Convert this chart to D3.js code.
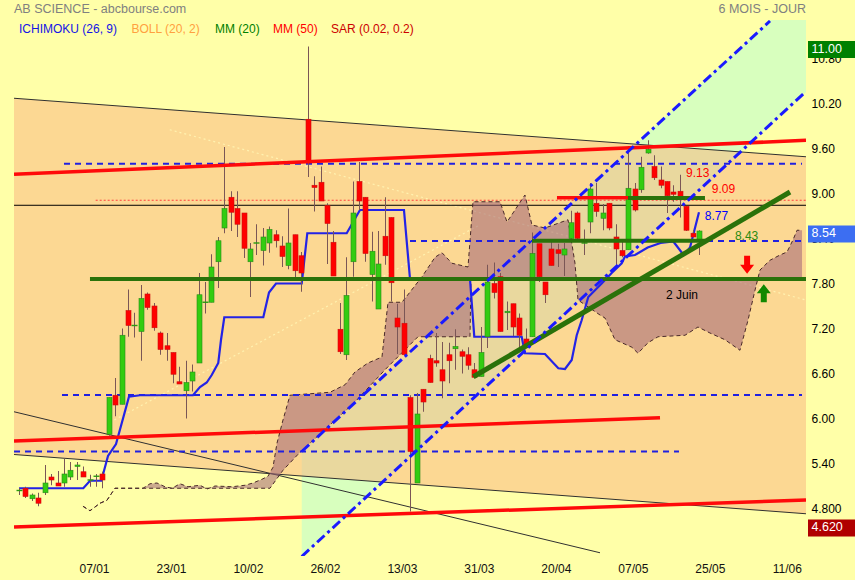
<!DOCTYPE html>
<html><head><meta charset="utf-8">
<script src="https://cdn.jsdelivr.net/npm/d3@7"></script>
<style>body{margin:0;background:#ffffa8;} svg{display:block;font-family:Arial,"Liberation Sans",sans-serif;}</style>
</head><body><svg id="c" width="855" height="580"></svg>
<script>
// ---------- DATA ----------
const dateLabels = ["07/01","23/01","10/02","26/02","13/03","31/03","20/04","07/05","25/05","11/06"];
const dateLabelIdx = [0,12,24,36,48,60,72,84,96,108];
const priceTicks = [10.8,10.2,9.6,9.0,8.4,7.8,7.2,6.6,6.0,5.4,4.8];
const priceTickLabels = ["10.80","10.20","9.60","9.00","8.40","7.80","7.20","6.60","6.00","5.40","4.800"];
const firstIdx = -12;
const opens  = [5.06,5.09,4.95,4.96,5.03,5.24,5.16,5.16,5.24,5.38,5.31,5.20,5.25,5.28,5.81,6.33,6.21,7.46,7.26,7.18,7.68,7.52,7.16,6.99,6.90,6.51,6.39,6.52,6.76,7.56,7.57,8.11,8.56,8.97,8.82,8.76,8.11,8.36,8.26,8.36,8.47,8.32,8.06,8.47,8.19,10.01,9.13,9.17,8.86,8.37,7.21,6.87,8.11,9.18,8.97,7.94,7.48,8.45,8.70,7.36,7.29,6.30,5.16,6.41,6.82,6.79,6.67,6.87,6.95,6.91,6.87,6.67,6.58,7.11,7.82,7.91,7.43,7.55,7.36,7.08,7.11,8.35,7.84,8.28,8.27,8.20,8.42,8.76,8.36,8.64,8.89,8.69,8.89,8.44,8.26,8.27,9.08,9.07,9.56,9.38,9.20,9.18,9.04,9.05,8.85,8.49,8.38];
const highs  = [5.09,5.11,5.02,5.03,5.40,5.28,5.32,5.49,5.44,5.44,5.38,5.27,5.28,5.31,6.30,6.56,7.22,7.74,7.43,7.80,7.70,7.56,7.18,7.16,6.90,6.71,6.79,6.74,7.96,7.84,8.21,8.44,9.64,9.05,9.05,8.76,8.36,8.61,8.56,8.58,8.53,8.45,8.82,8.47,8.24,10.98,9.25,9.38,8.89,8.52,7.56,8.17,9.18,9.44,8.97,8.51,8.52,8.97,8.70,7.55,7.74,6.33,6.36,6.41,6.87,7.16,7.04,7.03,7.21,6.94,6.97,6.76,7.24,8.07,8.10,7.96,7.58,7.55,7.42,7.22,8.50,8.35,7.84,8.40,8.35,8.36,8.79,8.78,8.54,9.16,9.16,8.88,8.89,8.61,8.38,9.65,9.16,9.51,9.73,9.53,9.38,9.18,9.13,9.27,8.85,8.53,8.53];
const lows   = [5.00,4.96,4.92,4.85,5.00,5.13,5.12,5.11,5.20,5.20,5.24,5.11,5.11,5.09,5.79,6.05,6.21,7.11,7.10,6.79,7.47,7.19,6.87,6.79,6.49,6.48,6.02,6.38,6.76,7.42,7.57,7.76,8.49,8.52,8.44,8.16,7.64,8.20,8.06,8.23,8.30,8.04,8.01,7.89,7.71,9.24,8.78,8.92,8.08,7.92,6.88,6.80,7.91,8.80,8.11,7.58,7.48,8.07,7.58,6.88,6.87,4.78,5.16,6.11,6.50,6.71,6.29,6.49,6.67,6.62,6.67,6.57,6.58,6.96,7.62,7.18,7.20,7.12,6.94,6.99,7.11,7.84,7.56,8.06,8.04,7.92,8.38,8.40,8.20,8.49,8.71,8.53,8.53,8.07,8.17,8.27,8.78,9.03,9.55,9.20,9.09,8.76,8.91,8.70,8.52,8.44,8.20];
const closes = [5.06,4.98,5.00,4.89,5.16,5.20,5.12,5.28,5.33,5.40,5.24,5.20,5.25,5.20,6.30,6.20,7.13,7.26,7.26,7.62,7.50,7.23,6.94,6.94,6.61,6.48,6.50,6.64,7.67,7.57,8.04,8.39,8.82,8.77,8.61,8.29,8.28,8.36,8.44,8.54,8.39,8.18,8.36,7.99,7.96,9.43,9.10,8.92,8.62,7.92,6.91,7.66,8.76,8.92,8.22,8.25,8.08,8.19,7.83,7.24,6.87,5.58,6.08,6.24,6.50,6.76,6.52,6.79,6.98,6.85,6.73,6.57,6.90,7.84,7.70,7.18,7.45,7.24,7.13,6.99,8.22,7.91,7.67,8.06,8.22,8.28,8.63,8.42,8.36,9.08,8.78,8.76,8.56,8.28,8.19,9.09,8.80,9.37,9.61,9.23,9.13,8.99,9.01,8.98,8.53,8.44,8.52];

// Ichimoku
const kijunLine = [[-12,5.09],[-1.98,5.09],[-0.94,5.19],[0.83,5.19],[1.87,5.52],[3.12,5.68],[5.14,6.31],[6.86,6.33],[15.12,6.33],[16.21,6.44],[17.26,6.50],[18.04,6.6],[19.06,6.76],[19.49,7.07],[20.0,7.37],[26.08,7.37],[26.97,7.70],[28.06,7.82],[32.07,7.82],[32.94,8.49],[39.08,8.49],[41.15,8.80],[48.01,8.80],[48.95,7.88],[58.30,7.88],[58.97,7.11],[66.36,7.11],[66.87,6.89],[69.99,6.88],[72.07,6.69],[73.11,6.68],[74.16,6.80],[74.94,7.13],[75.71,7.33],[76.74,7.64],[78.83,7.82],[80.39,7.96],[81.95,8.09],[82.46,8.18],[84.02,8.2],[86,8.3],[88,8.36],[90,8.38],[91.6,8.2],[92.6,8.3],[94,8.77]];
const spanA = [[-2.03,4.85],[-0.94,4.79],[0.62,4.89],[1.71,4.93],[2.49,5.03],[2.96,5.09],[7.33,5.09],[8.42,5.15],[9.51,5.16],[10.76,5.11],[11.85,5.09],[13.09,5.15],[14.34,5.11],[16.21,5.13],[17.30,5.08],[18.55,5.12],[21.20,5.11],[23.23,5.13],[24.47,5.16],[25.88,5.21],[26.81,5.25],[27.59,5.37],[28.21,5.69],[29.15,6.0],[30.24,6.33],[36.48,6.37],[38.82,6.47],[40.37,6.64],[42.40,6.76],[44.58,6.84],[45.52,7.57],[47.70,7.57],[50.82,7.91],[52.85,8.17],[53.94,8.23],[55.49,8.09],[57.99,8.04],[58.77,8.91],[62.98,8.91],[64.07,8.64],[66.87,9.0],[67.96,8.6],[69.99,8.56],[73.58,8.67],[74.67,8.09],[75.14,7.6],[78.57,7.4],[79.35,7.36],[80.91,7.07],[83.55,6.97],[84.49,6.89],[86.05,7.03],[87.61,7.11],[91.82,7.13],[93.84,7.24],[95.71,7.16],[98.05,7.07],[100.39,6.93],[101.64,7.33],[102.73,7.73],[103.51,8.0],[105.07,8.13],[106.63,8.2],[107.72,8.24],[108.65,8.4],[109.28,8.53],[110.06,8.53]];
const spanB = [[-2.03,4.85],[-0.94,4.79],[0.62,4.89],[1.71,4.93],[2.49,5.03],[2.96,5.09],[27.12,5.09],[29.15,5.33],[31.80,5.57],[40.37,6.24],[45.05,6.67],[50.19,7.11],[58.30,7.11],[58.46,7.88],[110.06,7.88]];

// Drawn lines (index, price)
const blackTop = [[-12.78,10.29],[110.68,9.51]];
const blackBottom = [[-12.78,5.54],[110.68,4.75]];
const blackSteep = [[-12.78,6.11],[78.57,4.23]];
const blackFlat = [[-12.78,8.863],[110.68,8.863]];
const redDotted = [[-0.05,8.93],[110.68,8.93]];
const blueDashed = [[[-4.99,9.417],[110.06,9.417]],[[48.95,8.387],[110.06,8.387]],[[-5.3,6.333],[110.06,6.333]],[[-12.78,5.58],[90.88,5.58]]];
const redThick = [[[-12.78,9.276],[110.68,9.729]],[[-12.78,5.72],[87.92,6.029]],[[-12.78,4.573],[110.68,4.933]],[[71.86,8.964],[83.71,8.964]]];
const greenThick = [[[-0.94,7.88],[110.68,7.88]],[[67.97,8.389],[94.93,8.389]],[[58.82,6.577],[108.19,9.04]],[[82.93,8.96],[94.93,8.96]]];
const blueUpper = [[32.07,5.58],[105.07,11.32]];
const blueLower = [[32.07,4.18],[110.68,10.38]];
const greenZone = [[32.07,5.58],[116,12.19],[116,10.79],[32.07,4.18]];
const paleDotted = [[[11.5,9.87],[110.68,7.6]],[[2.18,5.97],[59.8,8.60]]];
const annotations = [
  {t:"9.13", k:91.97, p:9.28, c:"#ff0000"},
  {t:"9.09", k:96.0, p:9.07, c:"#ff0000"},
  {t:"8.77", k:94.9, p:8.71, c:"#0000ff"},
  {t:"8.43", k:99.6, p:8.44, c:"#2a8a10"},
  {t:"2 Juin", k:88.85, p:7.65, c:"#000000"}
];
const arrows = [{k:101.5, p:7.95, dir:"down", c:"#ff0000"},{k:104.1, p:7.81, dir:"up", c:"#118800"}];
const priceBoxes = [{v:11.00, t:"11.00", c:"#008000"},{v:8.54, t:"8.54", c:"#3c6ef2"},{v:4.62, t:"4.620", c:"#b00000"}];
const legend = [
  {t:"ICHIMOKU (26, 9)", c:"#1414e6", x:19},
  {t:"BOLL (20, 2)", c:"#ffa040", x:131.5},
  {t:"MM (20)", c:"#008000", x:215},
  {t:"MM (50)", c:"#ff0000", x:273},
  {t:"SAR (0.02, 0.2)", c:"#cc0000", x:331}
];

// ---------- DRAW ----------
const W = 855, H = 580;
const plot = {l:14, r:806, t:20, b:556};
const x = d3.scaleLinear().domain([0,108]).range([96, 788.8]);
const y = d3.scaleLinear().domain([4.8,10.8]).range([510,60]);
const svg = d3.select("#c");
svg.append("rect").attr("width",W).attr("height",H).attr("fill","#ffffa8");
svg.append("defs").append("clipPath").attr("id","clip").append("rect")
  .attr("x",plot.l).attr("y",plot.t).attr("width",plot.r-plot.l).attr("height",plot.b-plot.t);
const g = svg.append("g").attr("clip-path","url(#clip)");
const line = d3.line().x(d=>x(d[0])).y(d=>y(d[1]));
const poly = pts => line(pts) + "Z";

g.append("path").attr("d",poly(greenZone)).attr("fill","#d8ffbe");
g.append("path").attr("d",poly(blackTop.concat(blackBottom.slice().reverse())))
  .attr("fill","#f9b27e").attr("fill-opacity",0.5);

paleDotted.forEach(s=>g.append("path").attr("d",line(s)).attr("stroke","#fff2b0").attr("stroke-width",1.2).attr("stroke-dasharray","2,3").attr("fill","none"));

[blackTop,blackBottom,blackSteep].forEach(s=>g.append("path").attr("d",line(s)).attr("stroke","#303030").attr("stroke-width",1).attr("fill","none"));
g.append("path").attr("d",line(blackFlat)).attr("stroke","#000").attr("stroke-width",1).attr("fill","none");
g.append("path").attr("d",line(redDotted)).attr("stroke","#ff4040").attr("stroke-width",1).attr("stroke-dasharray","2,2").attr("fill","none");

g.append("path").attr("d",poly(spanA.concat(spanB.slice().reverse())))
  .attr("fill","rgb(160,100,120)").attr("fill-opacity",0.55);
[spanA,spanB].forEach(s=>g.append("path").attr("d",line(s)).attr("stroke","#4a2a2a").attr("stroke-width",1).attr("stroke-dasharray","4,3").attr("fill","none"));

blueDashed.forEach(s=>g.append("path").attr("d",line(s)).attr("stroke","#2020e0").attr("stroke-width",2).attr("stroke-dasharray","6,5").attr("fill","none"));

g.append("path").attr("d",line(kijunLine)).attr("stroke","#2323e6").attr("stroke-width",2.2).attr("fill","none");

const idx = d3.range(opens.length).map(i=>i+firstIdx);
const cg = g.append("g");
idx.forEach((k,i)=>{
  const up = closes[i] >= opens[i];
  const xc = Math.round(x(k))+0.5;
  cg.append("line").attr("x1",xc).attr("x2",xc).attr("y1",y(highs[i])).attr("y2",y(lows[i])).attr("stroke","#7a5656").attr("stroke-width",1);
  const top = y(Math.max(opens[i],closes[i])), bot = y(Math.min(opens[i],closes[i]));
  if (bot-top < 1.2) {
    cg.append("line").attr("x1",xc-3).attr("x2",xc+3).attr("y1",top).attr("y2",top).attr("stroke",up?"#2a9a10":"#7a5656").attr("stroke-width",1.4);
  } else {
    cg.append("rect").attr("x",xc-2.5).attr("y",top).attr("width",5).attr("height",bot-top)
      .attr("fill",up?"#33cc11":"#ff0000").attr("stroke",up?"#2a8a1a":"#cc1010").attr("stroke-width",0.6);
  }
});

redThick.forEach(s=>g.append("path").attr("d",line(s)).attr("stroke","#ff0a0a").attr("stroke-width",3.5).attr("fill","none"));
greenThick.forEach((s,i)=>g.append("path").attr("d",line(s)).attr("stroke","#2a720a").attr("stroke-width",i==2?5:4).attr("fill","none"));
[blueUpper,blueLower].forEach(s=>g.append("path").attr("d",line(s)).attr("stroke","#1a1aff").attr("stroke-width",3).attr("stroke-dasharray","10,4,3,4").attr("fill","none"));

annotations.forEach(a=>g.append("text").attr("x",x(a.k)).attr("y",y(a.p)).attr("fill",a.c).attr("font-size",12).attr("dominant-baseline","middle").text(a.t));
arrows.forEach(a=>{
  const xc=x(a.k), yt=y(a.p);
  const pts = a.dir==="down"
    ? [[xc-3,yt-18],[xc+3,yt-18],[xc+3,yt-9],[xc+7,yt-9],[xc,yt],[xc-7,yt-9],[xc-3,yt-9]]
    : [[xc-3,yt+18],[xc+3,yt+18],[xc+3,yt+9],[xc+7,yt+9],[xc,yt],[xc-7,yt+9],[xc-3,yt+9]];
  g.append("path").attr("d","M"+pts.map(p=>p.join(",")).join("L")+"Z").attr("fill",a.c);
});

const ax = svg.append("g");
priceTicks.forEach((v,i)=>ax.append("text").attr("x",811.5).attr("y",y(v)).attr("dominant-baseline","middle").attr("font-size",12).attr("fill","#000").text(priceTickLabels[i]));
priceBoxes.forEach(b=>{
  ax.append("rect").attr("x",808).attr("y",y(b.v)-4).attr("width",47).attr("height",17).attr("fill",b.c);
  ax.append("text").attr("x",811.5).attr("y",y(b.v)+4.5).attr("dominant-baseline","middle").attr("font-size",12.5).attr("fill","#fff").text(b.t);
});
dateLabels.forEach((t,i)=>svg.append("text").attr("x",x(dateLabelIdx[i])-1.5).attr("y",573).attr("text-anchor","middle").attr("font-size",12).attr("fill","#111").text(t));

svg.append("text").attr("x",14).attr("y",13).attr("font-size",12.5).attr("fill","#808080").text("AB SCIENCE - abcbourse.com");
svg.append("text").attr("x",806).attr("y",13).attr("font-size",12.5).attr("fill","#808080").attr("text-anchor","end").text("6 MOIS - JOUR");
legend.forEach(l=>svg.append("text").attr("x",l.x).attr("y",33).attr("font-size",12).attr("fill",l.c).text(l.t));
</script></body></html>
